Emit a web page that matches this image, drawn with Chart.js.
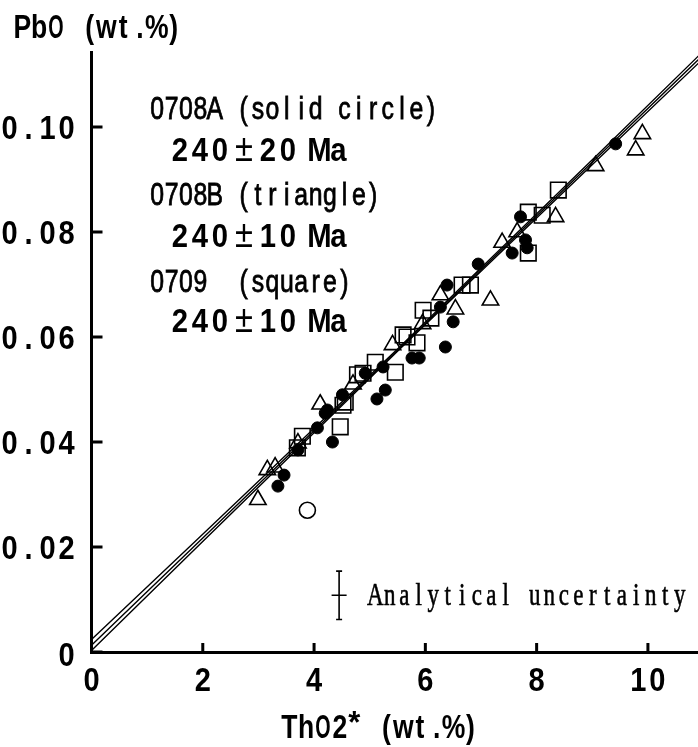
<!DOCTYPE html>
<html>
<head>
<meta charset="utf-8">
<script src="https://cdn.jsdelivr.net/npm/chart.js@4"></script>
<style>
  body { margin: 0; background: #fff; }
  canvas { display: block; }
</style>
</head>
<body>
<canvas id="grafico" width="698" height="747"></canvas>
<script>
// ThO2* vs PbO, three samples
const circuloX = [3.35, 3.46, 3.71, 4.06, 4.20, 4.24, 4.33, 4.51, 4.92, 5.13, 5.28, 5.24, 5.76, 5.89, 6.36, 6.50, 6.27, 6.39, 6.95, 7.56, 7.80, 7.83, 7.71, 9.42];
const circuloY = [0.0316, 0.0337, 0.0385, 0.0427, 0.0455, 0.0461, 0.0400, 0.0490, 0.0531, 0.0482, 0.0499, 0.0543, 0.0560, 0.0560, 0.0581, 0.0629, 0.0657, 0.0699, 0.0739, 0.0760, 0.0785, 0.0770, 0.0829, 0.0968];

const trianguloX = [2.99, 3.16, 3.30, 3.71, 4.11, 4.70, 5.41, 5.95, 6.27, 6.54, 7.17, 7.38, 7.65, 8.34, 9.06, 9.78, 9.90];
const trianguloY = [0.0290, 0.0347, 0.0352, 0.0398, 0.0472, 0.0510, 0.0585, 0.0625, 0.0680, 0.0653, 0.0670, 0.0780, 0.0800, 0.0829, 0.0926, 0.0956, 0.0987];

const cuadradoX = [3.70, 3.79, 4.47, 4.52, 4.56, 4.78, 4.88, 5.10, 5.46, 5.60, 5.67, 5.85, 5.96, 6.10, 6.66, 6.81, 7.85, 7.85, 8.10, 8.39];
const cuadradoY = [0.0389, 0.0411, 0.0429, 0.0470, 0.0476, 0.0528, 0.0531, 0.0552, 0.0533, 0.0604, 0.0600, 0.0589, 0.0651, 0.0636, 0.0699, 0.0699, 0.0760, 0.0838, 0.0832, 0.0880];

// punto descartado (circulo abierto)
const abiertoX = [3.88];
const abiertoY = [0.0270];

// isocrona y sus limites
const rectaX = [0, 5.5, 11];
const rectaCentro = [0.0013, 0.0575, 0.1138];
const rectaSup = [0.0024, 0.0577, 0.1145];
const rectaInf = [0.0003, 0.0573, 0.1131];

// barra de error analitico
const errorCentro = [4.45, 0.0108];
const errorMedio = [0.135, 0.0046];

const xTicks = [0, 2, 4, 6, 8, 10];
const xEtiquetas = ['0', '2', '4', '6', '8', '10'];
const yTicks = [0, 0.02, 0.04, 0.06, 0.08, 0.10];
const yEtiquetas = ['0', '0.02', '0.04', '0.06', '0.08', '0.10'];

const muestras = ['0708A (solid circle)', '0708B (triangle)', '0709  (square)'];
const edades = ['240±20 Ma', '240±10 Ma', '240±10 Ma'];

const aPuntos = (xs, ys) => xs.map((x, i) => ({ x: x, y: ys[i] }));

// texto dibujado letra a letra en celdas de ancho fijo
function celdas(ctx, texto, x, y, o) {
  ctx.save();
  ctx.fillStyle = '#000';
  ctx.strokeStyle = '#000';
  ctx.textAlign = 'center';
  ctx.textBaseline = 'alphabetic';
  for (const ch of texto) {
    const w = (o.anchos && o.anchos[ch]) || o.adv;
    if (ch !== ' ') {
      ctx.save();
      ctx.font = (o.fuentes && o.fuentes[ch]) || o.font;
      ctx.translate(x + w / 2, y);
      ctx.scale((o.escalas && o.escalas[ch]) || o.sx || 1, 1);
      ctx.fillText(ch, 0, 0);
      if (o.grosor) {
        // engrosar un poco el trazo
        ctx.lineWidth = o.grosor;
        ctx.strokeText(ch, 0, 0);
      }
      ctx.restore();
    }
    x += w;
  }
  ctx.restore();
  return x;
}
function anchoCeldas(texto, o) {
  let w = 0;
  for (const ch of texto) w += (o.anchos && o.anchos[ch]) || o.adv;
  return w;
}

const estiloTick = { font: 'bold 33px "Liberation Sans"', adv: 19, sx: 0.88 };
const estiloTitulo = { font: 'bold 34px "Liberation Sans"', adv: 16.8, sx: 0.78, escalas: { O: 0.58 } };
const estiloMuestra = { font: '31px "Liberation Sans"', adv: 14.4, sx: 0.8, grosor: 0.8 };
const estiloEdad = {
  font: 'bold 34px "Liberation Sans"', adv: 20, sx: 0.86,
  anchos: { '±': 28, ' ': 11, 'M': 21, 'a': 17 },
  fuentes: { '±': '38px "Liberation Sans"' }
};
const estiloNota = { font: '31px "Liberation Serif"', adv: 14.5, sx: 0.74, grosor: 0.6 };

const decoracion = {
  id: 'decoracion',
  afterDraw(chart) {
    const ctx = chart.ctx;
    const xs = chart.scales.x, ys = chart.scales.y;
    const area = chart.chartArea;

    // marcas hacia adentro
    ctx.save();
    ctx.strokeStyle = '#000';
    ctx.lineWidth = 3;
    ctx.beginPath();
    xTicks.forEach(v => {
      const px = xs.getPixelForValue(v);
      ctx.moveTo(px, area.bottom);
      ctx.lineTo(px, area.bottom - 9);
    });
    yTicks.forEach(v => {
      const py = ys.getPixelForValue(v);
      ctx.moveTo(area.left, py);
      ctx.lineTo(area.left + 11, py);
    });
    ctx.stroke();
    ctx.restore();

    // etiquetas de los ejes
    xTicks.forEach((v, i) => {
      const w = anchoCeldas(xEtiquetas[i], estiloTick);
      celdas(ctx, xEtiquetas[i], xs.getPixelForValue(v) - w / 2, 691, estiloTick);
    });
    yTicks.forEach((v, i) => {
      const w = anchoCeldas(yEtiquetas[i], estiloTick);
      const dy = v === 0 ? 14 : 12;
      celdas(ctx, yEtiquetas[i], 76 - w, ys.getPixelForValue(v) + dy, estiloTick);
    });

    // titulos
    celdas(ctx, 'PbO (wt.%)', 14, 38, estiloTitulo);
    let cx = celdas(ctx, 'ThO2', 281, 738, estiloTitulo);
    cx = celdas(ctx, '*', cx - 1, 733, { font: 'bold 31px "Liberation Sans"', adv: 14 });
    celdas(ctx, ' (wt.%)', cx, 738, estiloTitulo);

    // muestras y edades
    const base = [119, 205, 292];
    const baseEdad = [161, 247, 332];
    muestras.forEach((t, i) => {
      celdas(ctx, t, 150, base[i], estiloMuestra);
      celdas(ctx, edades[i], 170, baseEdad[i], estiloEdad);
    });

    // incertidumbre analitica
    const ex = xs.getPixelForValue(errorCentro[0]);
    const ey = ys.getPixelForValue(errorCentro[1]);
    const ex1 = xs.getPixelForValue(errorCentro[0] - errorMedio[0]);
    const ex2 = xs.getPixelForValue(errorCentro[0] + errorMedio[0]);
    const ey1 = ys.getPixelForValue(errorCentro[1] + errorMedio[1]);
    const ey2 = ys.getPixelForValue(errorCentro[1] - errorMedio[1]);
    ctx.save();
    ctx.strokeStyle = '#000';
    ctx.lineWidth = 1.6;
    ctx.beginPath();
    ctx.moveTo(ex, ey1); ctx.lineTo(ex, ey2);
    ctx.moveTo(ex1, ey); ctx.lineTo(ex2, ey);
    ctx.moveTo(ex - 3, ey1); ctx.lineTo(ex + 3, ey1);
    ctx.moveTo(ex - 3, ey2); ctx.lineTo(ex + 3, ey2);
    ctx.stroke();
    ctx.restore();
    celdas(ctx, 'Analytical uncertainty', 368, 605, estiloNota);
  }
};

const linea = (ys) => ({
  type: 'line',
  data: aPuntos(rectaX, ys),
  borderColor: '#000',
  borderWidth: 1.4,
  pointRadius: 0,
  fill: false,
  cubicInterpolationMode: 'monotone'
});

const ctxG = document.getElementById('grafico').getContext('2d');
const grafico = new Chart(ctxG, {
  type: 'scatter',
  data: {
    datasets: [
      linea(rectaCentro),
      linea(rectaSup),
      linea(rectaInf),
      {
        label: '0708A',
        data: aPuntos(circuloX, circuloY),
        pointStyle: 'circle',
        pointRadius: 6,
        backgroundColor: '#000',
        borderColor: '#000',
        borderWidth: 1
      },
      {
        label: '0708B',
        data: aPuntos(trianguloX, trianguloY),
        pointStyle: 'triangle',
        pointRadius: 9.5,
        backgroundColor: 'rgba(0,0,0,0)',
        borderColor: '#000',
        borderWidth: 1.6
      },
      {
        label: '0709',
        data: aPuntos(cuadradoX, cuadradoY),
        pointStyle: 'rect',
        pointRadius: 11,
        backgroundColor: 'rgba(0,0,0,0)',
        borderColor: '#000',
        borderWidth: 1.6
      },
      {
        label: 'descartado',
        data: aPuntos(abiertoX, abiertoY),
        pointStyle: 'circle',
        pointRadius: 8,
        backgroundColor: 'rgba(0,0,0,0)',
        borderColor: '#000',
        borderWidth: 1.6
      }
    ]
  },
  options: {
    responsive: false,
    animation: false,
    layout: { autoPadding: false, padding: { top: 52, right: 0, left: 0, bottom: 0 } },
    plugins: {
      legend: { display: false },
      tooltip: { enabled: false }
    },
    scales: {
      x: {
        type: 'linear',
        min: 0,
        max: 10.9,
        afterFit: s => { s.height = 95; },
        ticks: { display: false },
        grid: { display: false, drawTicks: false },
        border: { display: true, color: '#000', width: 3 }
      },
      y: {
        type: 'linear',
        min: 0,
        max: 0.1143,
        afterFit: s => { s.width = 91.5; },
        ticks: { display: false },
        grid: { display: false, drawTicks: false },
        border: { display: true, color: '#000', width: 3 }
      }
    }
  },
  plugins: [decoracion]
});
</script>
</body>
</html>
